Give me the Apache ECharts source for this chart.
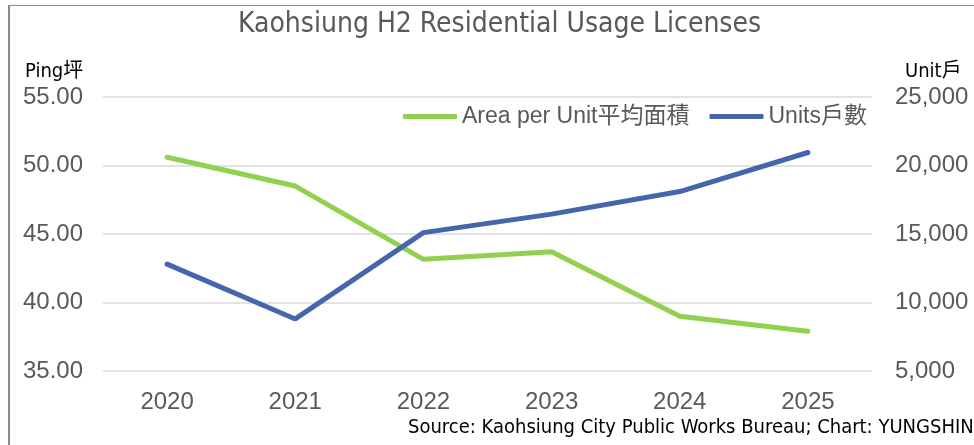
<!DOCTYPE html>
<html>
<head>
<meta charset="utf-8">
<script src="https://cdn.jsdelivr.net/npm/echarts@6/dist/echarts.min.js"></script>
<style>
  body { margin: 0; background: #fff; }
  #main { width: 974px; height: 445px; }
</style>
</head>
<body>
<div id="main"></div>
<script>
// 年份
const years = ['2020', '2021', '2022', '2023', '2024', '2025'];
// 平均面積 (坪)
const areaPerUnit = [50.6, 48.5, 43.15, 43.7, 39.0, 37.9];
// 戶數
const units = [12800, 8800, 15100, 16450, 18100, 20950];

const narrow = '"DejaVu Sans Condensed", "Noto Sans CJK TC", sans-serif';
const plain = '"Liberation Sans", "Noto Sans CJK TC", sans-serif';

const myChart = echarts.init(document.getElementById('main'));
const option = {
  animation: false,
  title: {
    text: 'Kaohsiung H2 Residential Usage Licenses',
    left: 238,
    top: 11,
    padding: 0,
    textStyle: { fontFamily: narrow, fontSize: 28, fontWeight: 'normal', color: '#595959' }
  },
  legend: {
    left: 403,
    top: 105,
    padding: 0,
    icon: 'roundRect',
    itemWidth: 54,
    itemHeight: 5,
    itemGap: 20,
    textStyle: { fontFamily: plain, fontSize: 23, color: '#595959' },
    data: ['Area per Unit平均面積', 'Units戶數']
  },
  grid: { left: 103, right: 102, top: 97, bottom: 74 },
  xAxis: {
    type: 'category',
    data: years,
    axisLine: { show: false },
    axisTick: { show: false },
    axisLabel: { margin: 19, fontFamily: plain, fontSize: 24, color: '#595959' }
  },
  yAxis: [
    {
      type: 'value',
      min: 35, max: 55, interval: 5,
      axisLabel: { margin: 20, fontFamily: plain, fontSize: 24, color: '#595959',
        formatter: (v) => v.toFixed(2) },
      splitLine: { lineStyle: { color: '#d9d9d9', width: 1.5 } }
    },
    {
      type: 'value',
      min: 5000, max: 25000, interval: 5000,
      axisLabel: { margin: 23, fontFamily: plain, fontSize: 24, color: '#595959',
        formatter: (v) => v.toLocaleString('en-US') },
      splitLine: { show: false }
    }
  ],
  series: [
    {
      name: 'Area per Unit平均面積',
      type: 'line',
      yAxisIndex: 0,
      data: areaPerUnit,
      symbol: 'none',
      lineStyle: { width: 5, color: '#92d050', cap: 'round' },
      itemStyle: { color: '#92d050' }
    },
    {
      name: 'Units戶數',
      type: 'line',
      yAxisIndex: 1,
      data: units,
      symbol: 'none',
      lineStyle: { width: 5, color: '#4565ad', cap: 'round' },
      itemStyle: { color: '#4565ad' }
    }
  ],
  graphic: [
    { type: 'line', shape: { x1: 9, y1: 5, x2: 9, y2: 445 }, style: { stroke: '#8c8c8c', lineWidth: 2 } },
    { type: 'line', shape: { x1: 8, y1: 5.5, x2: 974, y2: 5.5 }, style: { stroke: '#8c8c8c', lineWidth: 1 } },
    { type: 'text', left: 25, top: 62, style: { text: 'Ping坪', font: '20px ' + narrow, fill: '#000' } },
    { type: 'text', left: 905, top: 62, style: { text: 'Unit戶', font: '20px ' + narrow, fill: '#000' } },
    { type: 'text', left: 408, top: 418, style: { text: 'Source: Kaohsiung City Public Works Bureau; Chart: YUNGSHIN', font: '20px ' + narrow, fill: '#000' } }
  ]
};
myChart.setOption(option);
</script>
</body>
</html>
